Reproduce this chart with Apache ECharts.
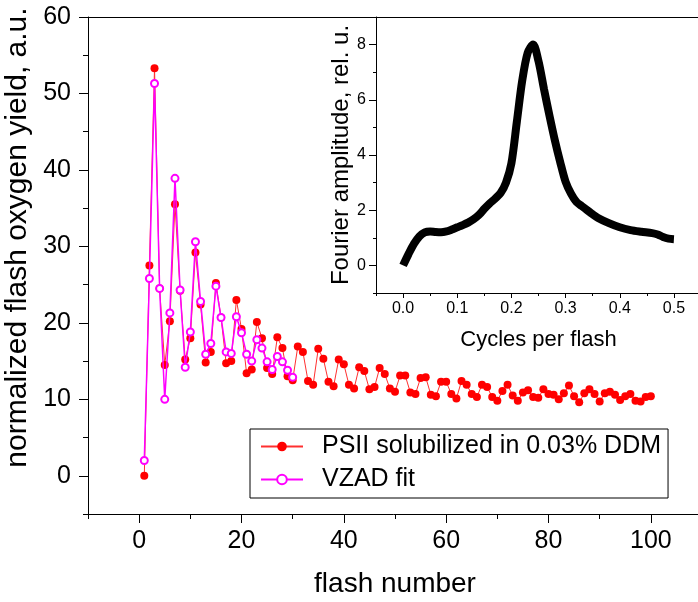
<!DOCTYPE html>
<html>
<head>
<meta charset="utf-8">
<script src="https://cdn.jsdelivr.net/npm/echarts@6/dist/echarts.min.js"></script>
<style>html,body{margin:0;padding:0;background:#fff}#c{width:698px;height:602px}</style>
</head>
<body>
<div id="c"></div>
<script>
// ---- data ----
var psiiValues = [0, 27.5, 53.3, 24.5, 14.5, 20.2, 35.5, 24.2, 15.2, 18.0,
  29.2, 22.4, 14.8, 16.2, 25.2, 20.7, 14.7, 15.0, 23.0, 19.2,
  13.4, 13.9, 20.1, 18.0, 14.1, 13.3, 18.1, 16.7, 13.0, 12.5,
  16.9, 16.2, 12.4, 11.9, 16.6, 15.3, 12.3, 11.7, 15.2, 14.6,
  11.9, 11.4, 14.2, 13.7, 11.3, 11.6, 14.1, 13.3, 11.4, 11.0,
  13.1, 13.1, 10.9, 10.7, 12.8, 12.9, 10.6, 10.4, 12.3, 12.3,
  10.7, 10.1, 12.4, 11.9, 10.7, 10.3, 11.9, 11.6, 10.3, 9.8,
  11.1, 11.9, 10.5, 9.8, 10.9, 11.2, 10.3, 10.2, 11.3, 10.7,
  10.6, 10.0, 10.8, 11.8, 10.4, 9.6, 10.8, 11.3, 10.7, 9.7,
  10.8, 11.0, 10.6, 9.9, 10.4, 10.7, 9.8, 9.7, 10.3, 10.4];
var vzadValues = [2.0, 25.8, 51.3, 24.5, 10.0, 21.3, 38.9, 24.3, 14.2, 18.8,
  30.6, 22.8, 15.9, 17.3, 24.8, 20.7, 16.2, 16.0, 20.8, 18.7,
  15.9, 15.0, 17.8, 16.7, 14.9, 13.9, 15.6, 14.9, 13.8, 12.9];
var cyclesPerFlash = [0, 0.01, 0.02, 0.03, 0.04, 0.05, 0.06, 0.07, 0.08, 0.09,
  0.10, 0.11, 0.12, 0.13, 0.14, 0.15, 0.16, 0.17, 0.18, 0.19,
  0.20, 0.21, 0.22, 0.23, 0.24, 0.25, 0.26, 0.27, 0.28, 0.29,
  0.30, 0.31, 0.32, 0.33, 0.34, 0.35, 0.36, 0.38, 0.40, 0.42,
  0.44, 0.46, 0.47, 0.48, 0.49, 0.50];
var fourierAmp = [0, 0.41, 0.78, 1.05, 1.2, 1.23, 1.21, 1.2, 1.23, 1.3,
  1.38, 1.46, 1.55, 1.67, 1.83, 2.05, 2.25, 2.42, 2.62, 3.0,
  3.7, 5.2, 6.7, 7.7, 8.0, 7.4, 6.4, 5.45, 4.55, 3.75,
  3.03, 2.6, 2.3, 2.15, 2.0, 1.85, 1.72, 1.53, 1.38, 1.28,
  1.22, 1.17, 1.12, 1.03, 0.97, 0.95];
var mainXLabels = [0, 20, 40, 60, 80, 100];
var mainXMinor = [-10, 10, 30, 50, 70, 90, 110];
var mainYLabels = [0, 10, 20, 30, 40, 50, 60];
var mainYMinor = [-5, 5, 15, 25, 35, 45, 55];
var insetXLabels = [0, 0.1, 0.2, 0.3, 0.4, 0.5];
var insetXMinor = [-0.05, 0.05, 0.15, 0.25, 0.35, 0.45, 0.55];
var insetYLabels = [0, 2, 4, 6, 8];
var insetYMinor = [-1, 1, 3, 5, 7, 9];
var legendNames = ['PSII solubilized in 0.03% DDM', 'VZAD fit'];

var FONT = 'Liberation Sans, Arial, sans-serif';
var psiiData = psiiValues.map(function (v, i) { return [i + 1, v]; });
var vzadData = vzadValues.map(function (v, i) { return [i + 1, v]; });
var fourierData = cyclesPerFlash.map(function (c, i) { return [c, fourierAmp[i]]; });

var blackLine = { show: true, onZero: false, lineStyle: { color: '#000', width: 1 } };

function majorAxis(o) {
  return Object.assign({
    type: 'value', splitLine: { show: false }, axisLine: blackLine,
    axisTick: { show: true, inside: false, lineStyle: { color: '#000', width: 1 } },
    axisLabel: { color: '#000', fontFamily: FONT },
    nameTextStyle: { color: '#000', fontFamily: FONT }
  }, o);
}
function minorAxis(o, vals, len) {
  return Object.assign({
    type: 'value', splitLine: { show: false }, axisLine: { show: false, onZero: false },
    axisTick: { show: true, inside: false, length: len, customValues: vals, lineStyle: { color: '#000', width: 1 } },
    axisLabel: { show: false }
  }, o);
}
function borderAxis(o) {
  return Object.assign({
    type: 'value', splitLine: { show: false }, axisLine: blackLine,
    axisTick: { show: false }, axisLabel: { show: false }
  }, o);
}

var chart = echarts.init(document.getElementById('c'), null, { renderer: 'canvas' });
chart.setOption({
  animation: false,
  backgroundColor: '#fff',
  grid: [
    { left: 88, top: 17, width: 614, height: 497, containLabel: false, outerBoundsMode: 'none' },
    { left: 376, top: 17, width: 325, height: 276, containLabel: false, outerBoundsMode: 'none' }
  ],
  xAxis: [
    majorAxis({ gridIndex: 0, position: 'bottom', min: -10, max: 110,
      name: 'flash number', nameLocation: 'middle', nameGap: 56,
      nameTextStyle: { color: '#000', fontFamily: FONT, fontSize: 28 },
      axisTick: { show: true, length: 9, customValues: mainXLabels, lineStyle: { color: '#000' } },
      axisLabel: { color: '#000', fontFamily: FONT, fontSize: 25, margin: 15, customValues: mainXLabels } }),
    minorAxis({ gridIndex: 0, position: 'bottom', min: -10, max: 110 }, mainXMinor, 5),
    borderAxis({ gridIndex: 0, position: 'top', min: -10, max: 110 }),
    majorAxis({ gridIndex: 1, position: 'bottom', min: -0.05, max: 0.55,
      name: 'Cycles per flash', nameLocation: 'middle', nameGap: 36,
      nameTextStyle: { color: '#000', fontFamily: FONT, fontSize: 22 },
      axisTick: { show: true, length: 5, customValues: insetXLabels, lineStyle: { color: '#000' } },
      axisLabel: { color: '#000', fontFamily: FONT, fontSize: 16, margin: 8, customValues: insetXLabels,
        formatter: function (v) { return Number(v).toFixed(1); } } }),
    minorAxis({ gridIndex: 1, position: 'bottom', min: -0.05, max: 0.55 }, insetXMinor, 3),
    borderAxis({ gridIndex: 1, position: 'top', min: -0.05, max: 0.55 })
  ],
  yAxis: [
    majorAxis({ gridIndex: 0, position: 'left', min: -5, max: 60,
      name: 'normalized flash oxygen yield, a.u.', nameLocation: 'middle', nameGap: 43,
      nameTextStyle: { color: '#000', fontFamily: FONT, fontSize: 30, padding: [0, 0, 0, 56] },
      axisTick: { show: true, length: 9, customValues: mainYLabels, lineStyle: { color: '#000' } },
      axisLabel: { color: '#000', fontFamily: FONT, fontSize: 25, margin: 17, customValues: mainYLabels } }),
    minorAxis({ gridIndex: 0, position: 'left', min: -5, max: 60 }, mainYMinor, 5),
    majorAxis({ gridIndex: 1, position: 'left', min: -1, max: 9,
      name: 'Fourier amplitude, rel. u.', nameLocation: 'middle', nameGap: 17,
      nameTextStyle: { color: '#000', fontFamily: FONT, fontSize: 24 },
      axisTick: { show: true, length: 7, customValues: insetYLabels, lineStyle: { color: '#000' } },
      axisLabel: { color: '#000', fontFamily: FONT, fontSize: 16, margin: 10, customValues: insetYLabels } }),
    minorAxis({ gridIndex: 1, position: 'left', min: -1, max: 9 }, insetYMinor, 3)
  ],
  legend: {
    show: true, orient: 'vertical', left: 250, top: 429,
    padding: [5, 7, 6, 10], itemGap: 8, itemWidth: 42, itemHeight: 12,
    borderColor: '#000', borderWidth: 1, backgroundColor: '#fff',
    data: legendNames,
    textStyle: { color: '#000', fontFamily: FONT, fontSize: 25, padding: [0, 0, 0, 14] }
  },
  series: [
    { name: legendNames[0], type: 'line', xAxisIndex: 0, yAxisIndex: 0, data: psiiData,
      symbol: 'circle', symbolSize: 8, showSymbol: true,
      lineStyle: { color: '#ff3030', width: 1 },
      itemStyle: { color: '#ff0000' }, z: 3 },
    { name: legendNames[1], type: 'line', xAxisIndex: 0, yAxisIndex: 0, data: vzadData,
      symbol: 'emptyCircle', symbolSize: 7, showSymbol: true,
      lineStyle: { color: '#ff00ff', width: 1.5 },
      itemStyle: { color: '#ff00ff', borderColor: '#ff00ff', borderWidth: 1.5 }, z: 4 },
    { name: 'Fourier', type: 'line', xAxisIndex: 3, yAxisIndex: 2, data: fourierData,
      symbol: 'none', smooth: 0.3,
      lineStyle: { color: '#000', width: 8 }, z: 5 }
  ]
});
</script>
</body>
</html>
